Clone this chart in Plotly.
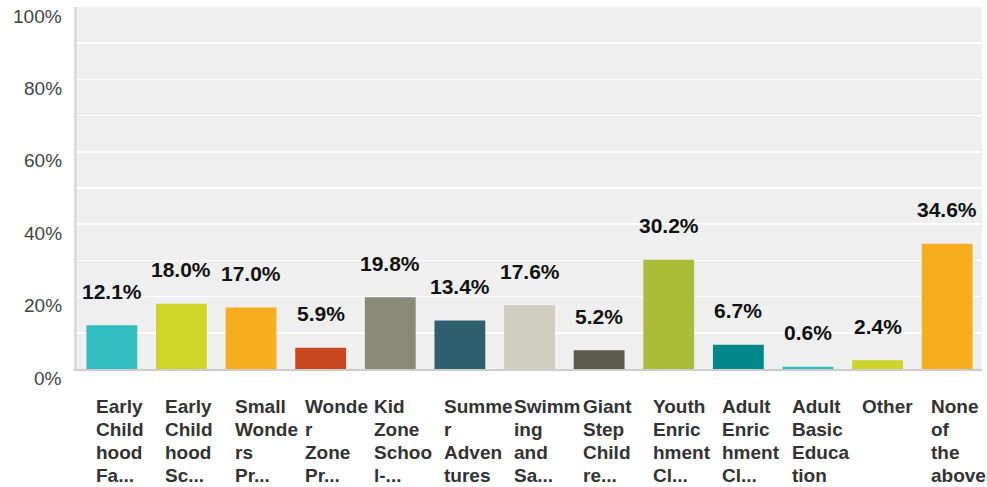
import plotly.graph_objects as go

categories = [
    "Early Childhood Fa...", "Early Childhood Sc...", "Small Wonders Pr...",
    "Wonder Zone Pr...", "Kid Zone School-...", "Summer Adventures",
    "Swimming and Sa...", "Giant Step Childre...", "Youth Enrichment Cl...",
    "Adult Enrichment Cl...", "Adult Basic Education", "Other", "None of the above",
]
label_lines = [
    ["Early", "Child", "hood", "Fa..."],
    ["Early", "Child", "hood", "Sc..."],
    ["Small", "Wonde", "rs", "Pr..."],
    ["Wonde", "r", "Zone", "Pr..."],
    ["Kid", "Zone", "Schoo", "l-..."],
    ["Summe", "r", "Adven", "tures"],
    ["Swimm", "ing", "and", "Sa..."],
    ["Giant", "Step", "Child", "re..."],
    ["Youth", "Enric", "hment", "Cl..."],
    ["Adult", "Enric", "hment", "Cl..."],
    ["Adult", "Basic", "Educa", "tion"],
    ["Other"],
    ["None", "of", "the", "above"],
]
values = [12.1, 18.0, 17.0, 5.9, 19.8, 13.4, 17.6, 5.2, 30.2, 6.7, 0.6, 2.4, 34.6]
colors = ["#32BDC0", "#CFD429", "#F6AE1F", "#C9471E", "#8A8A78", "#2F5F6E",
          "#CFCDBE", "#5C5A4A", "#A9BD38", "#00878A", "#32BDC0", "#CFD429", "#F6AE1F"]
ytick_vals = [0, 20, 40, 60, 80, 100]
ytick_text = ["0%", "20%", "40%", "60%", "80%", "100%"]

FONT = "Liberation Sans, Arial, sans-serif"
x = list(range(len(categories)))

fig = go.Figure(go.Bar(x=x, y=values, marker=dict(color=colors, line=dict(width=0)),
                       hoverinfo="skip"))

ann = []
for i, v in enumerate(values):
    ann.append(dict(x=i, y=v, xref="x", yref="y", text=f"{v:.1f}%", showarrow=False,
                    yanchor="middle", yshift=34,
                    font=dict(family=FONT, size=21, color="#111111", weight="bold")))
for i, lines in enumerate(label_lines):
    for j, ln in enumerate(lines):
        ann.append(dict(x=i, y=0, xref="x", yref="y", text=ln, showarrow=False,
                        xanchor="left", yanchor="middle", xshift=-18, yshift=-37 - 23 * j,
                        font=dict(family=FONT, size=19, color="#333333", weight="bold")))
for v, t in zip(ytick_vals, ytick_text):
    ann.append(dict(x=0, y=v, xref="paper", yref="y", text=t, showarrow=False,
                    xanchor="right", yanchor="middle", xshift=-13, yshift=-9,
                    font=dict(family=FONT, size=19, color="#444444")))

fig.update_layout(
    width=987, height=487,
    margin=dict(l=77, r=5, t=7, b=118),
    paper_bgcolor="white", plot_bgcolor="#EFEFEF",
    bargap=0.27, showlegend=False,
    annotations=ann,
    xaxis=dict(range=[-0.5, len(categories) - 0.5], showticklabels=False, showgrid=False,
               zeroline=False, showline=True, linecolor="#CCCCCC", linewidth=2, ticks=""),
    yaxis=dict(range=[0, 100], tickvals=list(range(0, 101, 10)), showticklabels=False,
               showgrid=True, gridcolor="white", gridwidth=1.5, zeroline=False,
               showline=True, linecolor="#DDDDDD", linewidth=3, ticks=""),
)
fig.write_html("out.html", config={"displayModeBar": False, "staticPlot": True},
               post_script="document.body.style.margin='0px';document.body.style.overflow='hidden';")
